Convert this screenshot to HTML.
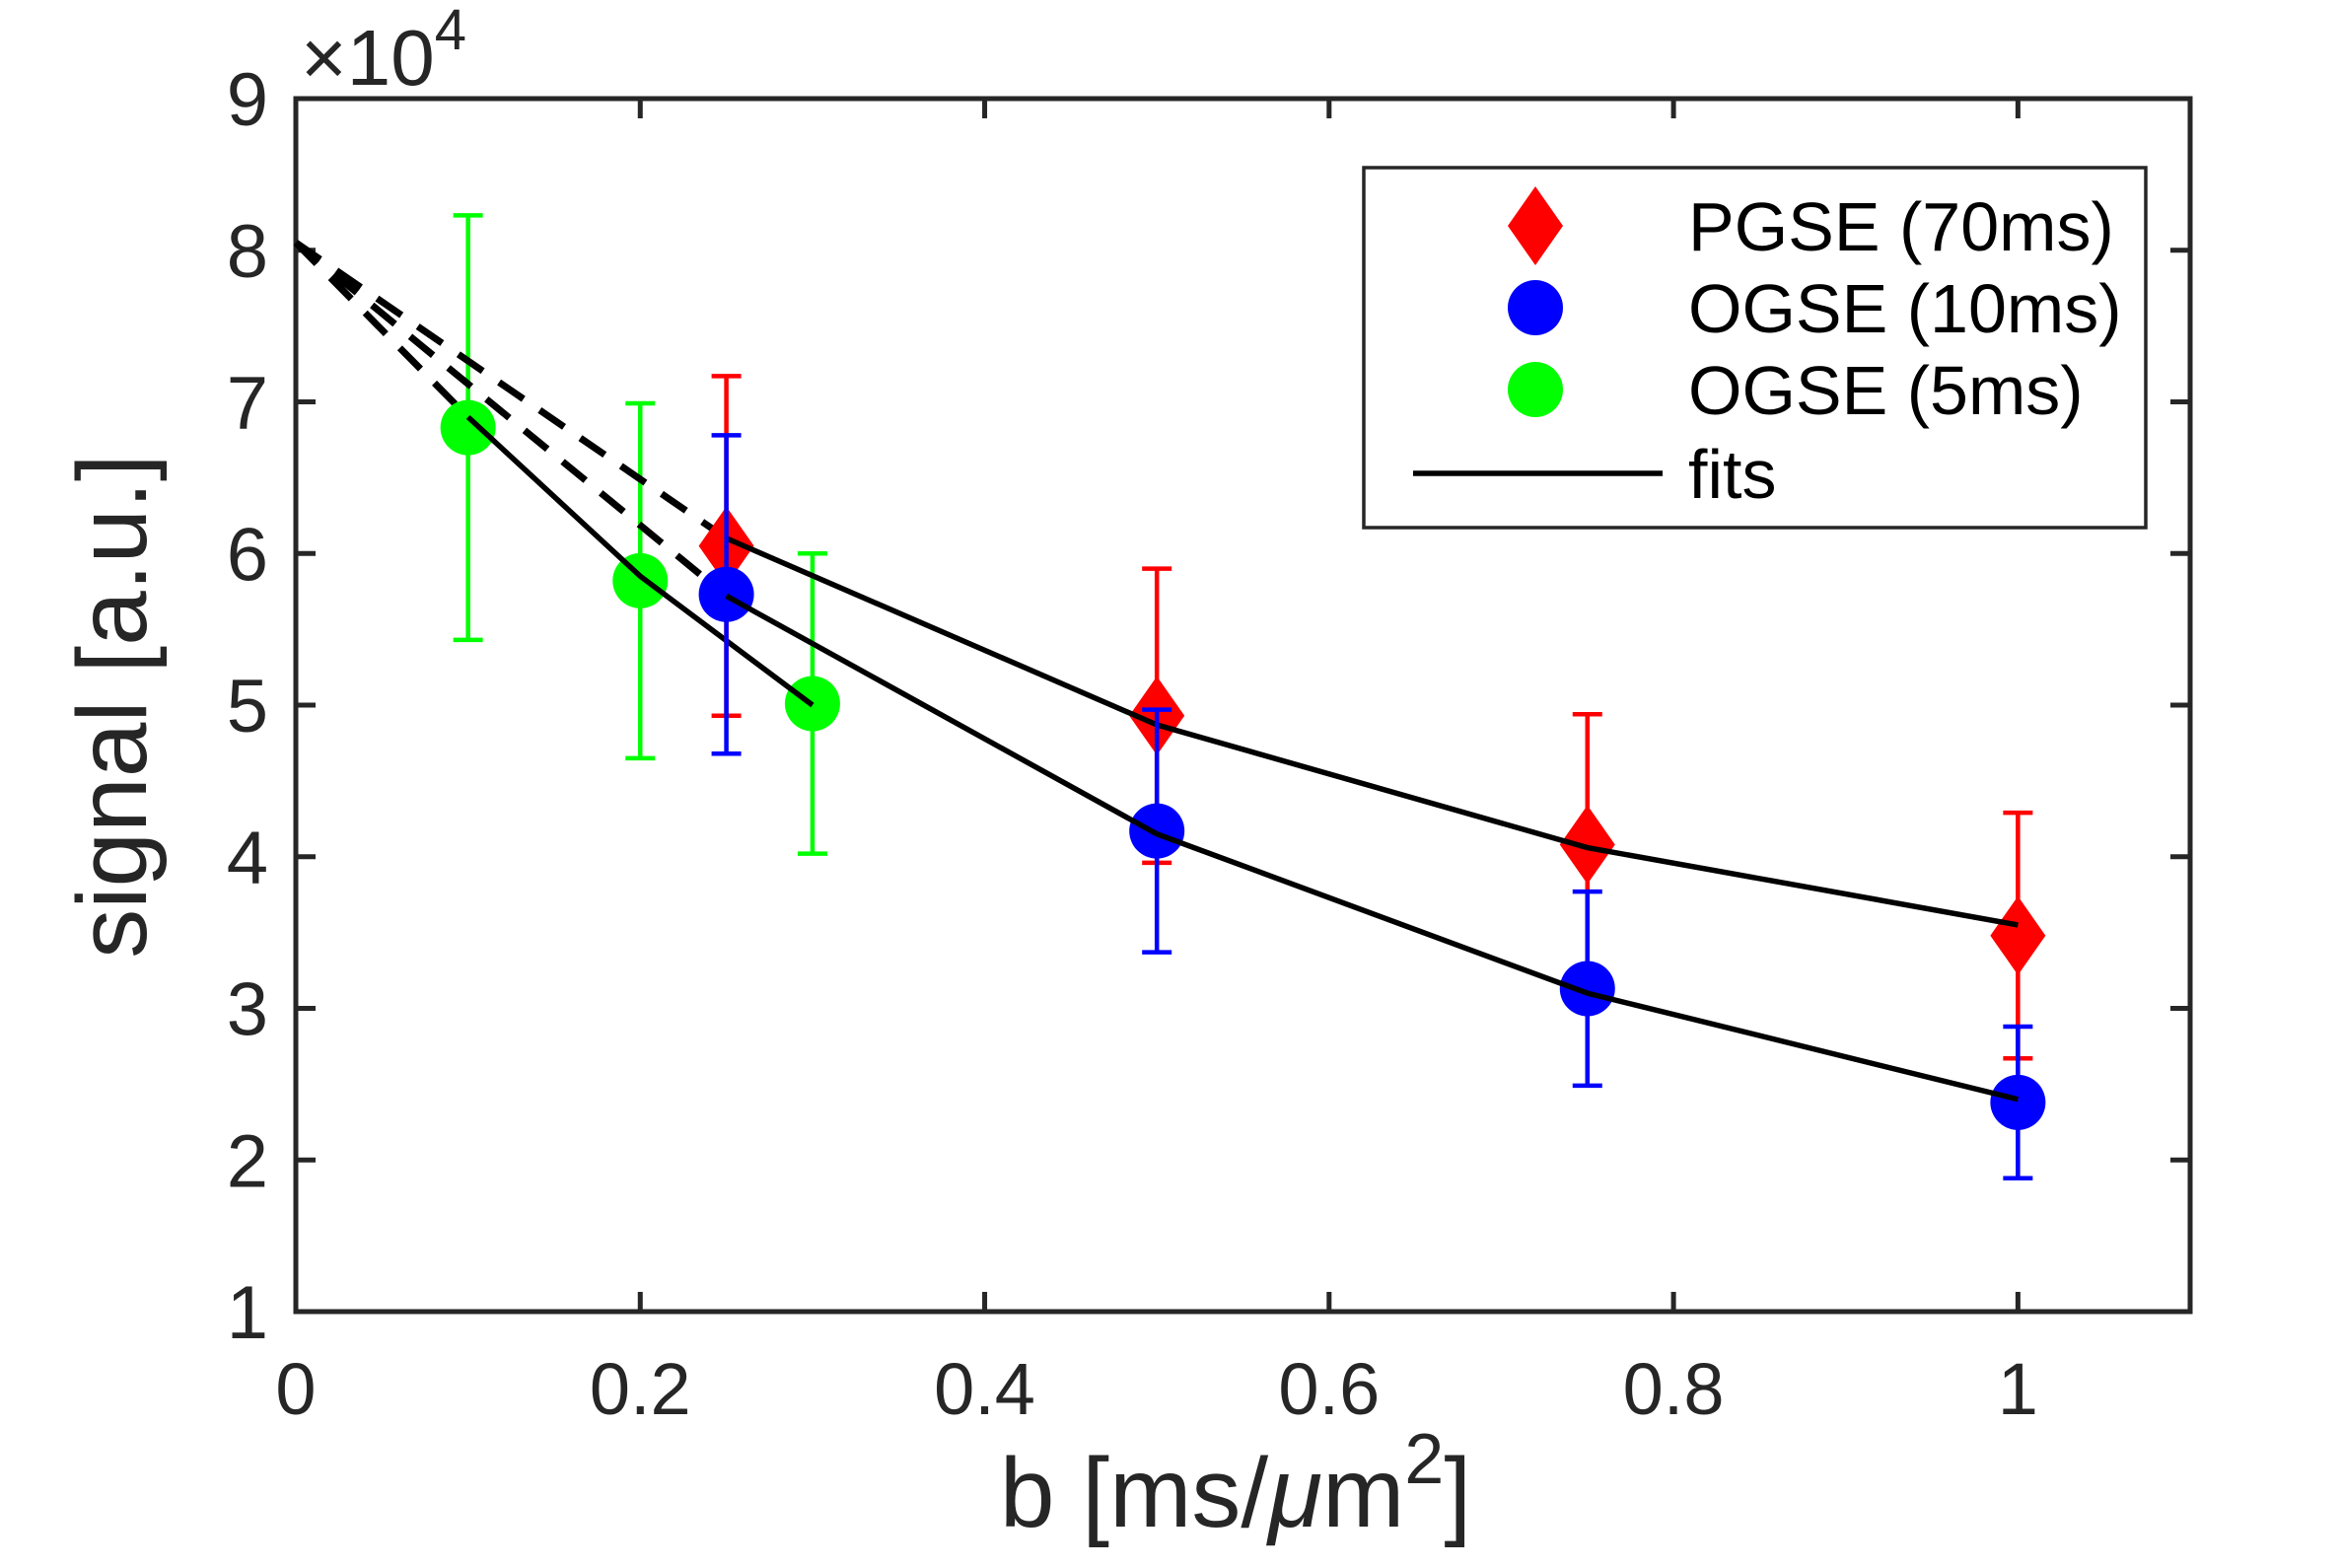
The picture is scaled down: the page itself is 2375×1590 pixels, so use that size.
<!DOCTYPE html>
<html><head><meta charset="utf-8"><style>
html,body{margin:0;padding:0;background:#fff;}
svg{display:block;font-family:"Liberation Sans",sans-serif;}
</style></head><body>
<svg id="chart" width="2375" height="1590" viewBox="0 0 2375 1590">
<rect width="2375" height="1590" fill="#fff"/>
<g id="plot"></g>
</svg>
<script>
const xTicks=[0,0.2,0.4,0.6,0.8,1];
const xTickLabels=["0","0.2","0.4","0.6","0.8","1"];
const yTicks=[1,2,3,4,5,6,7,8,9];
const yTickLabels=["1","2","3","4","5","6","7","8","9"];
const pgseB=[0.25,0.5,0.75,1];
const pgseY=[6.05,4.93,4.08,3.48];
const pgseErr=[1.12,0.97,0.86,0.81];
const pgseFit=[6.1,4.87,4.06,3.55];
const ogse10B=[0.25,0.5,0.75,1];
const ogse10Y=[5.73,4.17,3.13,2.38];
const ogse10Err=[1.05,0.8,0.64,0.5];
const ogse10Fit=[5.72,4.15,3.1,2.4];
const ogse5B=[0.1,0.2,0.3];
const ogse5Y=[6.83,5.82,5.01];
const ogse5Err=[1.4,1.17,0.99];
const ogse5Fit=[6.9,5.85,5.0];
const fitS0=8.05;

const L=300,R=2221,T=100,B=1330;
const xMin=0,xMax=1.1,yMin=1,yMax=9;
const X=v=>L+(v-xMin)/(xMax-xMin)*(R-L);
const Y=v=>B-(v-yMin)/(yMax-yMin)*(B-T);
const NS="http://www.w3.org/2000/svg";
const g=document.getElementById('plot');
function mk(tag,attrs,parent){const e=document.createElementNS(NS,tag);for(const k in attrs)e.setAttribute(k,attrs[k]);(parent||g).appendChild(e);return e;}

let box=mk('rect',{x:L,y:T,width:R-L,height:B-T,fill:'none',stroke:'#262626','stroke-width':5});


xTicks.forEach((v,i)=>{
  let t=mk('path',{d:`M${X(v)},${B}v-20M${X(v)},${T}v20`,stroke:'#262626','stroke-width':5});
  
  
  let s=mk('text',{x:X(v),y:1434,'font-size':74,fill:'#262626','text-anchor':'middle'});
  s.textContent=xTickLabels[i];
  
  
});
yTicks.forEach((v,i)=>{
  let t=mk('path',{d:`M${L},${Y(v)}h20M${R},${Y(v)}h-20`,stroke:'#262626','stroke-width':5});
  
  
  let s=mk('text',{x:272,y:Y(v)+27,'font-size':76,fill:'#262626','text-anchor':'end'});
  s.textContent=yTickLabels[i];
  
  
});
let ex=mk('text',{x:305,y:86,'font-size':80,fill:'#262626'});
ex.innerHTML='×10<tspan dy="-36" font-size="58">4</tspan>';


let xl=mk('text',{x:1253,y:1548,'font-size':100,fill:'#262626','text-anchor':'middle'});
xl.innerHTML='b [ms/<tspan font-style="italic">μ</tspan>m<tspan dy="-44" font-size="72">2</tspan><tspan dy="44">]</tspan>';


let yl=mk('text',{x:0,y:0,'font-size':100,fill:'#262626','text-anchor':'middle',transform:'translate(148,716) rotate(-90)'});
yl.textContent='signal [a.u.]';



function series(bs,ys,errs,fit,color,shape,name){
  let d=mk('line',{x1:X(0),y1:Y(fitS0),x2:X(bs[0]),y2:Y(fit[0]),stroke:'#000','stroke-width':7,'stroke-dasharray':'30,20'});
  
  
  bs.forEach((b,i)=>{
    let e=mk('path',{d:`M${X(b)},${Y(ys[i]+errs[i])}V${Y(ys[i]-errs[i])}M${X(b)-15},${Y(ys[i]+errs[i])}h30M${X(b)-15},${Y(ys[i]-errs[i])}h30`,stroke:color,'stroke-width':4.5,fill:'none'});
    
    
  });
  bs.forEach((b,i)=>{
    let m;
    const cx=X(b),cy=Y(ys[i]);
    if(shape==='diamond') m=mk('path',{d:`M${cx},${cy-40}L${cx+28},${cy}L${cx},${cy+40}L${cx-28},${cy}Z`,fill:color});
    else m=mk('circle',{cx:cx,cy:cy,r:28,fill:color});
    
    
  });
  let p=mk('polyline',{points:bs.map((b,i)=>X(b)+','+Y(fit[i])).join(' '),fill:'none',stroke:'#000','stroke-width':5.5});
  
  
}
series(ogse5B,ogse5Y,ogse5Err,ogse5Fit,'#00ff00','circle','ogse-5ms');
series(pgseB,pgseY,pgseErr,pgseFit,'#ff0000','diamond','pgse-70ms');
series(ogse10B,ogse10Y,ogse10Err,ogse10Fit,'#0000ff','circle','ogse-10ms');

let lg=mk('g',{});


mk('rect',{x:1383,y:170,width:793,height:365,fill:'#fff',stroke:'#262626','stroke-width':3.5},lg);
const rows=[['PGSE (70ms)','#ff0000','diamond',229],['OGSE (10ms)','#0000ff','circle',312],['OGSE (5ms)','#00ff00','circle',395],['fits','#000','line',480]];
rows.forEach(r=>{
  let e=mk('g',{},lg);
  
  
  const cx=1557,cy=r[3];
  if(r[2]==='diamond') mk('path',{d:`M${cx},${cy-40}L${cx+28},${cy}L${cx},${cy+40}L${cx-28},${cy}Z`,fill:r[1]},e);
  else if(r[2]==='circle') mk('circle',{cx:cx,cy:cy,r:28,fill:r[1]},e);
  else mk('line',{x1:1433,y1:cy,x2:1686,y2:cy,stroke:'#000','stroke-width':5.5},e);
  let t=mk('text',{x:1712,y:cy+25,'font-size':70,fill:'#000'},e);
  t.textContent=r[0];
});
</script>
</body></html>
